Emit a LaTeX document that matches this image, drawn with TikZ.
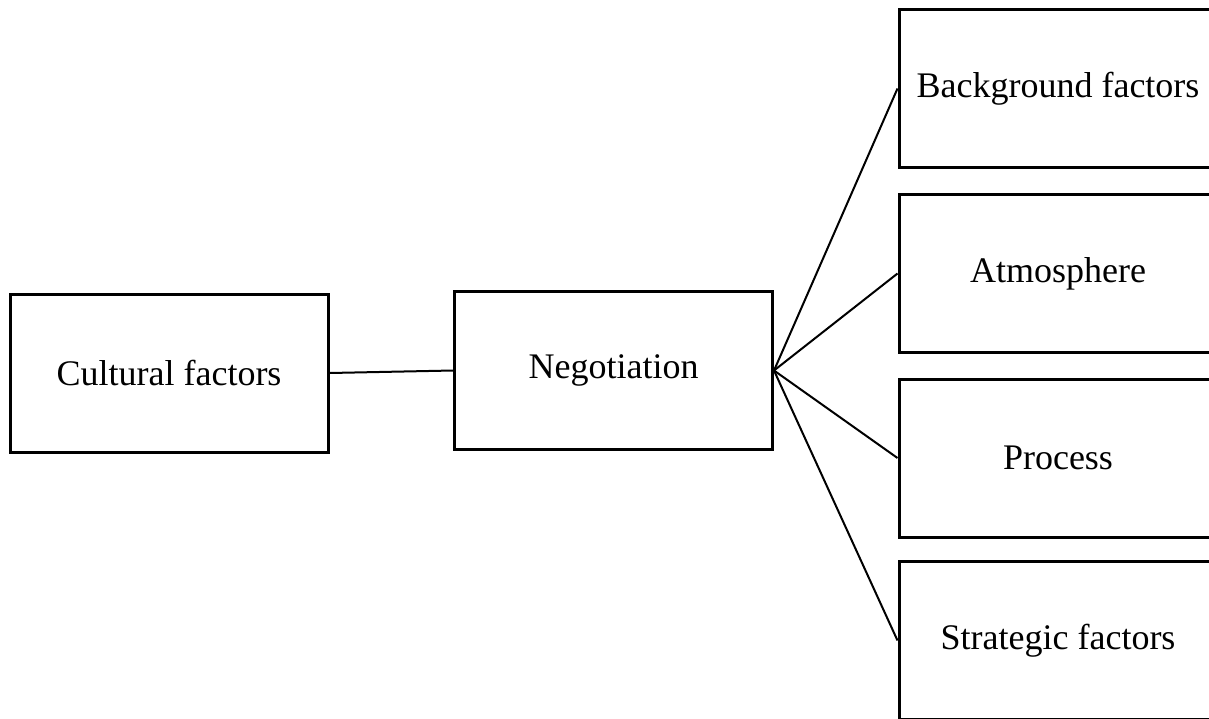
\documentclass[tikz,border=0pt]{standalone}
\usepackage{fontspec}
\setmainfont{Liberation Serif}
\begin{document}
\begin{tikzpicture}[x=1pt,y=-1pt,
  box/.style={draw, line width=3pt, minimum width=318pt, minimum height=158pt, inner sep=0pt, font=\fontsize{36}{40}\selectfont},
  link/.style={line width=2pt}]
\path[use as bounding box] (0,0) rectangle (1209,718);
\clip (0,0) rectangle (1209,718);
\node[box] (cult) at (169,373) {Cultural factors};
\node[box] (neg) at (613.5,370.5) {Negotiation};
\node[box] (bg) at (1058,88.5) {Background factors};
\node[box] (atm) at (1058,273.5) {Atmosphere};
\node[box] (proc) at (1058,458) {Process};
\node[box] (strat) at (1058,640.5) {Strategic factors};
\draw[link] (cult.east) -- (neg.west);
\draw[link] (neg.east) -- (bg.west);
\draw[link] (neg.east) -- (atm.west);
\draw[link] (neg.east) -- (proc.west);
\draw[link] (neg.east) -- (strat.west);
\end{tikzpicture}
\end{document}
